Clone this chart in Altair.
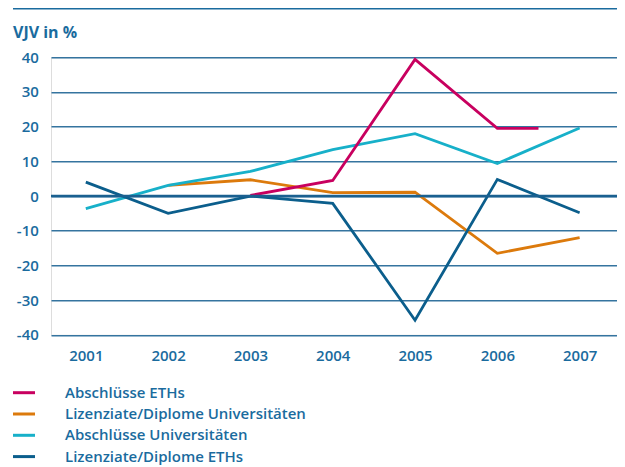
import altair as alt
import pandas as pd

# ---- data ----
years = [2001, 2002, 2003, 2004, 2005, 2006, 2007]
y_ticks = [-40, -30, -20, -10, 0, 10, 20, 30, 40]

series_names = [
    "Abschlüsse ETHs",
    "Lizenziate/Diplome Universitäten",
    "Abschlüsse Universitäten",
    "Lizenziate/Diplome ETHs",
]
series_colors = ["#c8005f", "#dc7a0c", "#17b0c9", "#0b5e8c"]

eth_abschl_x = [2003, 2004, 2005, 2006, 2006.5]
eth_abschl_y = [0.2, 4.5, 39.4, 19.5, 19.5]

uni_liz_x = [2002, 2003, 2004, 2005, 2006, 2007]
uni_liz_y = [3.1, 4.7, 1.0, 1.1, -16.5, -12.0]

uni_abschl_x = [2001, 2002, 2003, 2004, 2005, 2006, 2007]
uni_abschl_y = [-3.6, 3.1, 7.1, 13.4, 18.0, 9.4, 19.6]

eth_liz_x = [2001, 2002, 2003, 2004, 2005, 2006, 2007]
eth_liz_y = [4.0, -5.0, 0.0, -2.1, -35.8, 4.8, -4.8]

y_title = "VJV in %"

# ---- build tables ----
rows = []
for name, xs, ys in [
    (series_names[1], uni_liz_x, uni_liz_y),
    (series_names[2], uni_abschl_x, uni_abschl_y),
    (series_names[3], eth_liz_x, eth_liz_y),
    (series_names[0], eth_abschl_x, eth_abschl_y),
]:
    for x, y in zip(xs, ys):
        rows.append({"series": name, "year": x, "value": y})
df = pd.DataFrame(rows)
legend_df = pd.DataFrame({"series": series_names, "row": list(range(len(series_names)))})

TXT = "#1a6b9e"
FONT = "Open Sans"

W, H = 566, 277.5

color = alt.Color(
    "series:N",
    scale=alt.Scale(domain=series_names, range=series_colors),
    legend=None,
)

x_scale = alt.Scale(domain=[2000.577, 2007.454], nice=False, zero=False)
y_scale = alt.Scale(domain=[-40, 40], nice=False)

x_axis = alt.Axis(
    values=years, format="d", title=None, grid=False, domain=False,
    ticks=False, tickSize=0, labelPadding=21, labelBaseline="middle",
    labelFont=FONT, labelFontSize=15, labelFontWeight=600, labelColor=TXT,
)
y_axis = alt.Axis(
    values=y_ticks, title=None, grid=True, gridColor="#35749f", gridWidth=1.4,
    domain=False, ticks=False, tickSize=0, labelPadding=12.7, labelOverlap=False,
    labelExpr="'' + datum.value",
    labelFont=FONT, labelFontSize=15, labelFontWeight=600, labelColor=TXT,
)

lines = alt.Chart(df).mark_line(strokeWidth=2.8, strokeJoin="miter", strokeCap="butt").encode(
    x=alt.X("year:Q", scale=x_scale, axis=x_axis),
    y=alt.Y("value:Q", scale=y_scale, axis=y_axis),
    color=color,
    detail="series:N",
)

zero = alt.Chart(pd.DataFrame({"z": [0]})).mark_rule(color="#1a6090", strokeWidth=2.4).encode(
    y=alt.Y("z:Q", scale=y_scale, axis=y_axis),
)

top_rule = alt.Chart(pd.DataFrame({"a": [0]})).mark_rule(color=TXT, strokeWidth=1.5).encode(
    x=alt.value(-38), x2=alt.value(W), y=alt.value(-48.6)
)

title_txt = alt.Chart(pd.DataFrame({"t": [y_title]})).mark_text(
    align="left", baseline="middle", font=FONT, fontSize=16, fontWeight="bold", color=TXT
).encode(x=alt.value(-38), y=alt.value(-24.3), text="t:N")

leg_base = alt.Chart(legend_df).transform_calculate(ly="335.4 + datum.row * 21.3")
leg_sym = leg_base.mark_rule(strokeWidth=3).encode(
    x=alt.value(-38), x2=alt.value(-16),
    y=alt.Y("ly:Q", scale=None, axis=None),
    color=color,
)
leg_txt = leg_base.mark_text(
    align="left", baseline="middle", font=FONT, fontSize=15, fontWeight=600, color=TXT
).encode(
    x=alt.value(14),
    y=alt.Y("ly:Q", scale=None, axis=None),
    text="series:N",
)

chart = alt.layer(lines, zero, top_rule, title_txt, leg_sym, leg_txt).properties(
    width=W,
    height=H,
    autosize=alt.AutoSizeParams(type="none"),
    padding={"left": 43, "top": 49.3, "right": 0, "bottom": 130},
).configure_view(stroke=None).configure(background="white")

chart.save("out.html", embed_options={"renderer": "svg", "actions": False})
